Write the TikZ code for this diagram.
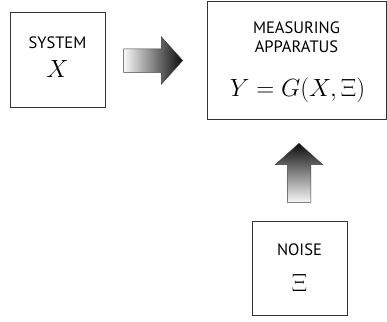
\documentclass[tikz,border=0pt]{standalone}
\usepackage{fontspec}
\setsansfont{PT Sans}
\usetikzlibrary{shapes.arrows}

\begin{document}
\begin{tikzpicture}[x=1pt, y=-1pt,
  box/.style={rectangle, draw=black!80, line width=1pt, minimum width=95pt,
              minimum height=94pt, inner sep=0pt},
  bigbox/.style={box, minimum width=179pt, minimum height=117pt},
  caption/.style={font=\sffamily\fontsize{16.5}{18}\selectfont, inner sep=0pt, anchor=base},
  sym/.style={font=\fontsize{24}{26}\selectfont, inner sep=0pt, anchor=base},
  fatarrow/.style={single arrow, draw=black!75, line width=0.5pt, anchor=tip,
                   single arrow head extend=12pt, single arrow tip angle=96,
                   minimum height=59pt}
]
  \useasboundingbox (0,0) rectangle (387,321);

  \node[box]    (sys)   at (57.5, 60)   {};
  \node[bigbox] (app)   at (296.5, 60.5) {};
  \node[box]    (noise) at (299.5, 268) {};

  \node[caption] (systxt) at (57.5, 48.3)  {SYSTEM};
  \node[sym]     (sysvar) at (57.5, 77.3)  {$X$};
  \node[caption] (apptxt) at (296.5, 33.3) {MEASURING};
  \node[caption] (apptx2) at (296.5, 52.7) {APPARATUS};
  \node[sym, font=\fontsize{26}{28}\selectfont] (appfun) at (297.5, 96) {$Y = G(X, \Xi)$};
  \node[caption] (noitxt) at (299.5, 255)  {NOISE};
  \node[sym]     (noivar) at (299.5, 291.7) {$\Xi$};

  \node[fatarrow, inner xsep=0pt, inner ysep=11.5pt,
        left color=black!3, right color=black!95] (feed) at (183, 60.5) {};
  \node[fatarrow, shape border rotate=90, inner xsep=11.5pt, inner ysep=0pt,
        top color=black!95, bottom color=black!3] (disturb) at (299, 143) {};

\end{tikzpicture}
\end{document}
